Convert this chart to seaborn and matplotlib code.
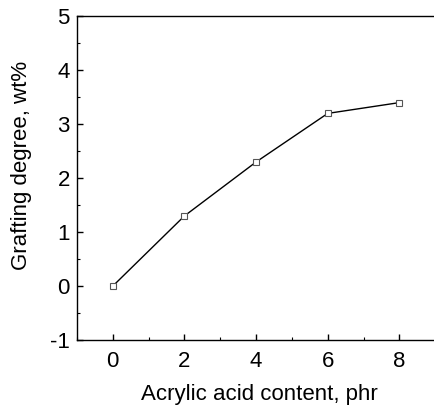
import matplotlib
matplotlib.use("Agg")
import matplotlib.pyplot as plt
import seaborn as sns
import pandas as pd
from matplotlib.ticker import MultipleLocator

# Data
acrylic_acid = [0, 2, 4, 6, 8]
grafting_degree = [0.0, 1.3, 2.3, 3.2, 3.4]

df = pd.DataFrame({"acid": acrylic_acid, "graft": grafting_degree})

sns.set_style("ticks")
plt.rcParams["font.family"] = ["Liberation Sans", "DejaVu Sans"]
plt.rcParams["axes.unicode_minus"] = False
plt.rcParams["text.color"] = "black"
plt.rcParams["axes.labelcolor"] = "black"
plt.rcParams["xtick.color"] = "black"
plt.rcParams["ytick.color"] = "black"

fig = plt.figure(figsize=(4.34, 4.05), dpi=100)
ax = fig.add_axes([0.177, 0.160, 0.826, 0.800])

sns.lineplot(data=df, x="acid", y="graft", ax=ax, color="black", linewidth=1.0,
             marker="s", markersize=5, markerfacecolor="white",
             markeredgecolor="#555555", markeredgewidth=0.8)

ax.set_xlim(-1, 9)
ax.set_ylim(-1, 5)
ax.xaxis.set_major_locator(MultipleLocator(2))
ax.xaxis.set_minor_locator(MultipleLocator(1))
ax.yaxis.set_major_locator(MultipleLocator(1))
ax.yaxis.set_minor_locator(MultipleLocator(0.5))
ax.tick_params(which="major", direction="in", length=4, width=1, labelsize=16)
ax.tick_params(axis="x", which="major", pad=8)
ax.tick_params(axis="y", which="major", pad=5)
ax.tick_params(which="minor", direction="in", length=2, width=0.8)

for s in ax.spines.values():
    s.set_linewidth(1.0)
    s.set_color("black")
ax.spines["right"].set_visible(False)

ax.set_xlabel("Acrylic acid content, phr", fontsize=16)
ax.set_ylabel("Grafting degree, wt%", fontsize=16)
ax.xaxis.set_label_coords(0.51, -0.136)
ax.yaxis.set_label_coords(-0.125, 0.54)

fig.savefig("out.png", dpi=100)
